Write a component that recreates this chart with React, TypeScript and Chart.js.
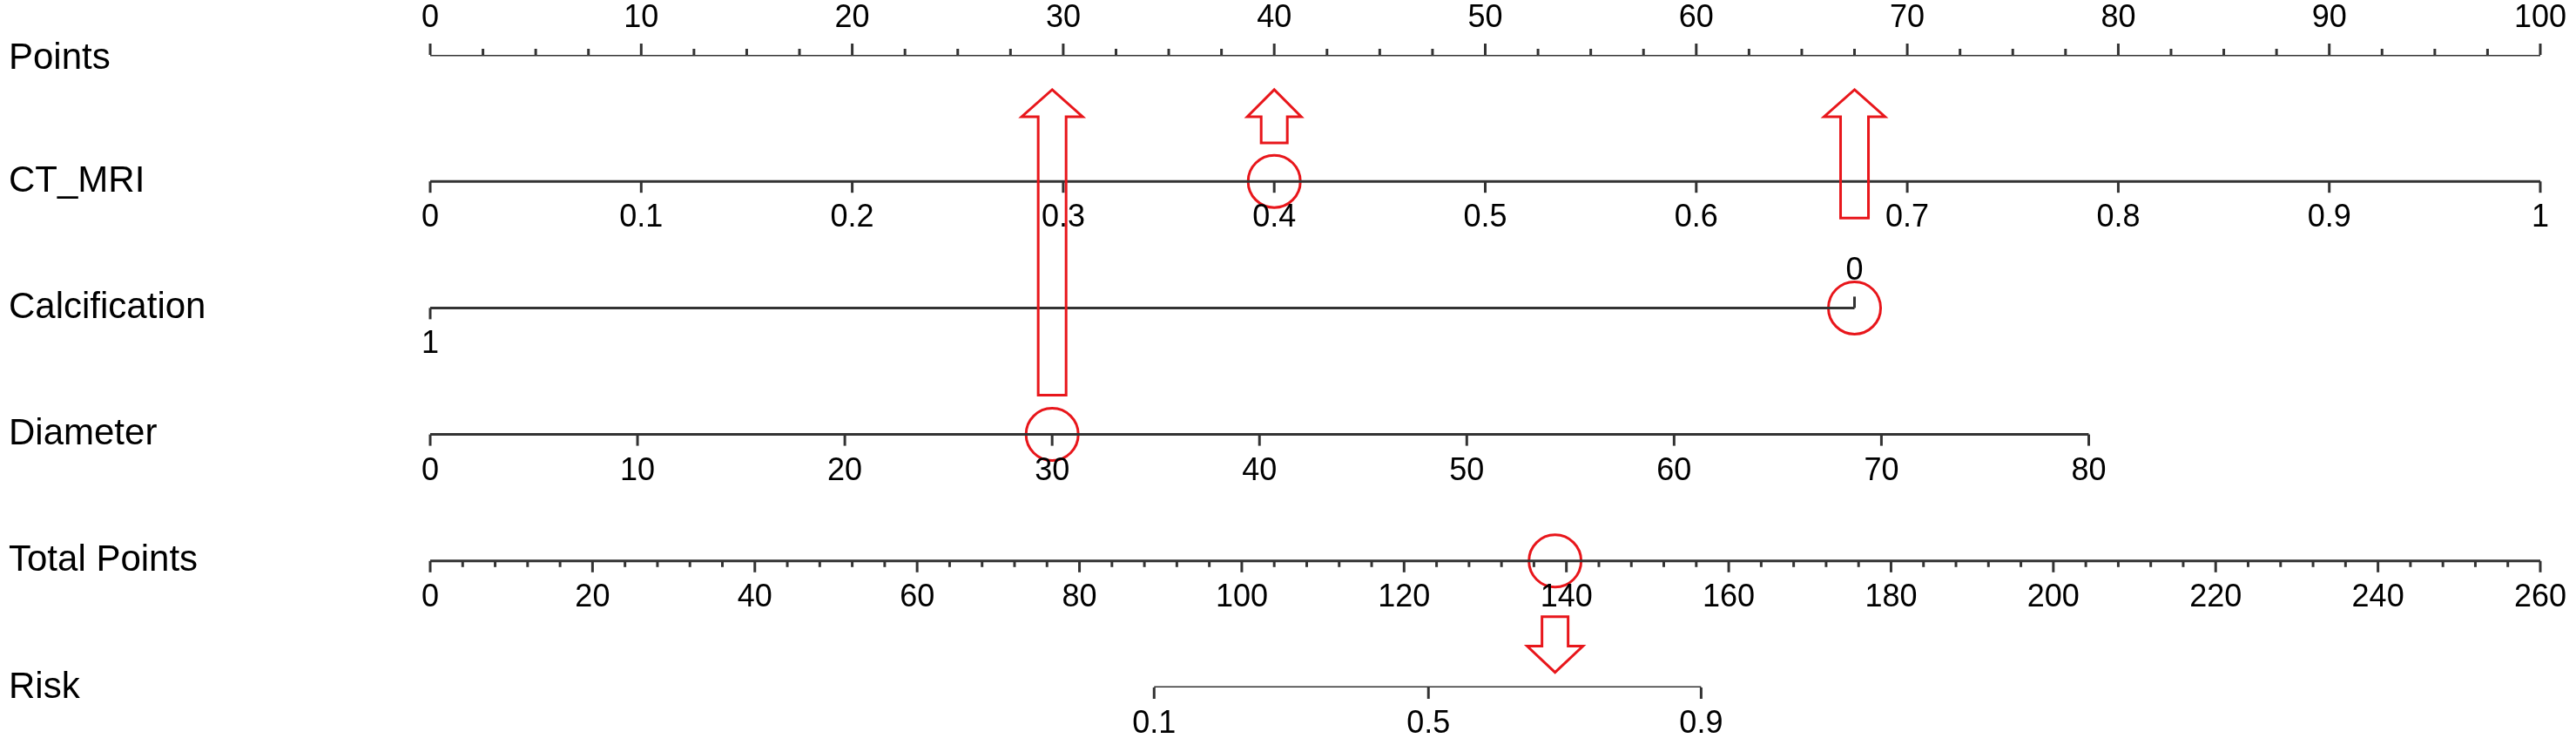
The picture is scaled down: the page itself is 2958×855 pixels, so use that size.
import React, { useEffect, useRef } from "react";
import { Chart, registerables } from "chart.js";

Chart.register(...registerables);

// ---------- data ----------
const rowLabels = ["Points", "CT_MRI", "Calcification", "Diameter", "Total Points", "Risk"];

const pointsMajorTicks = [0, 10, 20, 30, 40, 50, 60, 70, 80, 90, 100];
const pointsMinorStep = 2.5;

const ctMriTicks = [0, 0.1, 0.2, 0.3, 0.4, 0.5, 0.6, 0.7, 0.8, 0.9, 1];
const ctMriTickLabels = ["0", "0.1", "0.2", "0.3", "0.4", "0.5", "0.6", "0.7", "0.8", "0.9", "1"];
const ctMriPointsAtOne = 100;

const calcificationValues = ["1", "0"];
const calcificationPoints = [0, 67.5];

const diameterTicks = [0, 10, 20, 30, 40, 50, 60, 70, 80];
const diameterPointsAt80 = 78.6;

const totalMajorTicks = [0, 20, 40, 60, 80, 100, 120, 140, 160, 180, 200, 220, 240, 260];
const totalMinorStep = 4;

const riskTickLabels = ["0.1", "0.5", "0.9"];
const riskTotalPoints = [89.2, 123.0, 156.6];

// highlighted example patient
const exampleCtMri = 0.4;
const exampleCalcification = 1; // index into calcificationValues -> "0"
const exampleDiameter = 30;
const exampleTotal = 138.6;

// ---------- styles ----------
const AXIS_COLOR = "#333333";
const RED = "#e8161b";
const TICK_FONT = "36px 'Liberation Sans', Arial, sans-serif";
const ROW_FONT = "42px 'Liberation Sans', Arial, sans-serif";

const diamToPoints = (d: number) => (d * diameterPointsAt80) / 80;
const ctToPoints = (v: number) => v * ctMriPointsAtOne;

function rangeStep(max: number, step: number) {
  const out: number[] = [];
  for (let v = 0; v <= max + 1e-9; v += step) out.push(+v.toFixed(4));
  return out;
}

type TickSpec = { v: number; label?: string; major: boolean };
type AxisSpec = { row: number; scale: "x" | "xt"; dir: 1 | -1; ticks: TickSpec[] };

const axisSpecs: AxisSpec[] = [
  {
    row: 0,
    scale: "x",
    dir: -1,
    ticks: rangeStep(100, pointsMinorStep).map((v) => ({
      v,
      major: pointsMajorTicks.includes(v),
      label: pointsMajorTicks.includes(v) ? String(v) : undefined,
    })),
  },
  {
    row: 1,
    scale: "x",
    dir: 1,
    ticks: ctMriTicks.map((v, i) => ({ v: ctToPoints(v), major: true, label: ctMriTickLabels[i] })),
  },
  {
    row: 3,
    scale: "x",
    dir: 1,
    ticks: diameterTicks.map((d) => ({ v: diamToPoints(d), major: true, label: String(d) })),
  },
  {
    row: 4,
    scale: "xt",
    dir: 1,
    ticks: rangeStep(260, totalMinorStep)
      .filter((v) => v <= 260)
      .concat(totalMajorTicks)
      .filter((v, i, a) => a.indexOf(v) === i)
      .map((v) => ({
        v,
        major: totalMajorTicks.includes(v),
        label: totalMajorTicks.includes(v) ? String(v) : undefined,
      })),
  },
  {
    row: 5,
    scale: "xt",
    dir: 1,
    ticks: riskTotalPoints.map((v, i) => ({ v, major: true, label: riskTickLabels[i] })),
  },
];

const nomogramPlugin = {
  id: "nomogram",
  afterDatasetsDraw(chart: any) {
    const { ctx } = chart;
    const y = chart.scales.y;
    ctx.save();
    // row labels
    ctx.fillStyle = "#000";
    ctx.font = ROW_FONT;
    ctx.textAlign = "left";
    ctx.textBaseline = "middle";
    rowLabels.forEach((lab, r) => ctx.fillText(lab, 10, y.getPixelForValue(r) + (r === 0 ? 4 : 0)));

    // ticks + tick labels
    ctx.strokeStyle = AXIS_COLOR;
    ctx.lineWidth = 3;
    ctx.font = TICK_FONT;
    ctx.textAlign = "center";
    for (const ax of axisSpecs) {
      const sc = chart.scales[ax.scale];
      const py = y.getPixelForValue(ax.row);
      for (const t of ax.ticks) {
        const px = sc.getPixelForValue(t.v);
        const len = t.major ? 13 : 7;
        ctx.beginPath();
        ctx.moveTo(px, py);
        ctx.lineTo(px, py + ax.dir * len);
        ctx.stroke();
        if (t.label !== undefined) {
          ctx.fillText(t.label, px, py + ax.dir * 42);
        }
      }
    }
    // calcification: "1" below at start, "0" above at end
    {
      const sc = chart.scales.x;
      const py = y.getPixelForValue(2);
      calcificationValues.forEach((lab, i) => {
        const px = sc.getPixelForValue(calcificationPoints[i]);
        const dir = i === 0 ? 1 : -1;
        ctx.beginPath();
        ctx.moveTo(px, py);
        ctx.lineTo(px, py + dir * 13);
        ctx.stroke();
        ctx.fillText(lab, px, py + dir * 42);
      });
    }

    // red arrows
    ctx.strokeStyle = RED;
    ctx.lineWidth = 3;
    ctx.lineJoin = "miter";
    const upArrow = (px: number, tipRow: number, endRow: number, shaftHalf: number, headHalf: number) => {
      const tip = y.getPixelForValue(tipRow);
      const end = y.getPixelForValue(endRow);
      const shoulder = tip + 31;
      ctx.beginPath();
      ctx.moveTo(px, tip);
      ctx.lineTo(px + headHalf, shoulder);
      ctx.lineTo(px + shaftHalf, shoulder);
      ctx.lineTo(px + shaftHalf, end);
      ctx.lineTo(px - shaftHalf, end);
      ctx.lineTo(px - shaftHalf, shoulder);
      ctx.lineTo(px - headHalf, shoulder);
      ctx.closePath();
      ctx.stroke();
    };
    const sx = chart.scales.x;
    upArrow(sx.getPixelForValue(diamToPoints(exampleDiameter)), 0.275, 2.69, 16, 35);
    upArrow(sx.getPixelForValue(ctToPoints(exampleCtMri)), 0.275, 0.695, 15, 31);
    upArrow(sx.getPixelForValue(calcificationPoints[exampleCalcification]), 0.275, 1.29, 16, 35);

    // down arrow from total points to risk
    {
      const px = chart.scales.xt.getPixelForValue(exampleTotal);
      const top = y.getPixelForValue(4.44);
      const tip = y.getPixelForValue(4.88);
      const shoulder = tip - 30;
      const sh = 15, hh = 32;
      ctx.beginPath();
      ctx.moveTo(px - sh, top);
      ctx.lineTo(px + sh, top);
      ctx.lineTo(px + sh, shoulder);
      ctx.lineTo(px + hh, shoulder);
      ctx.lineTo(px, tip);
      ctx.lineTo(px - hh, shoulder);
      ctx.lineTo(px - sh, shoulder);
      ctx.closePath();
      ctx.stroke();
    }
    ctx.restore();
  },
};

export default function App() {
  const ref = useRef<HTMLCanvasElement | null>(null);
  useEffect(() => {
    document.body.style.margin = "0";
    const lineDs = (row: number, from: number, to: number, axis: string) => ({
      type: "line" as const,
      data: [
        { x: from, y: row },
        { x: to, y: row },
      ],
      xAxisID: axis,
      yAxisID: "y",
      borderColor: AXIS_COLOR,
      borderWidth: 3,
      pointRadius: 0,
      showLine: true,
      fill: false,
    });
    const circleDs = (pts: { x: number; y: number }[], axis: string) => ({
      type: "scatter" as const,
      data: pts,
      xAxisID: axis,
      yAxisID: "y",
      pointRadius: 30,
      pointHoverRadius: 30,
      pointStyle: "circle",
      borderColor: RED,
      borderWidth: 3,
      backgroundColor: "rgba(0,0,0,0)",
    });
    const chart = new Chart(ref.current!, {
      type: "scatter",
      data: {
        datasets: [
          lineDs(0, 0, 100, "x"),
          lineDs(1, ctToPoints(ctMriTicks[0]), ctToPoints(ctMriTicks[ctMriTicks.length - 1]), "x"),
          lineDs(2, calcificationPoints[0], calcificationPoints[1], "x"),
          lineDs(3, diamToPoints(diameterTicks[0]), diamToPoints(diameterTicks[diameterTicks.length - 1]), "x"),
          lineDs(4, 0, 260, "xt"),
          lineDs(5, riskTotalPoints[0], riskTotalPoints[riskTotalPoints.length - 1], "xt"),
          circleDs(
            [
              { x: ctToPoints(exampleCtMri), y: 1 },
              { x: calcificationPoints[exampleCalcification], y: 2 },
              { x: diamToPoints(exampleDiameter), y: 3 },
            ],
            "x"
          ),
          circleDs([{ x: exampleTotal, y: 4 }], "xt"),
        ] as any,
      },
      options: {
        animation: false,
        responsive: false,
        events: [],
        layout: { padding: { left: 494, right: 41, top: 63, bottom: 66 } },
        plugins: { legend: { display: false }, tooltip: { enabled: false } },
        scales: {
          x: { type: "linear", min: 0, max: 100, display: false },
          xt: { type: "linear", min: 0, max: 260, display: false },
          y: { type: "linear", min: 0, max: 5, reverse: true, display: false },
        },
      },
      plugins: [nomogramPlugin],
    });
    return () => chart.destroy();
  }, []);
  return (
    <div style={{ position: "absolute", left: 0, top: 0, width: 2958, height: 855, background: "#fff" }}>
      <canvas ref={ref} width={2958} height={855} />
    </div>
  );
}
